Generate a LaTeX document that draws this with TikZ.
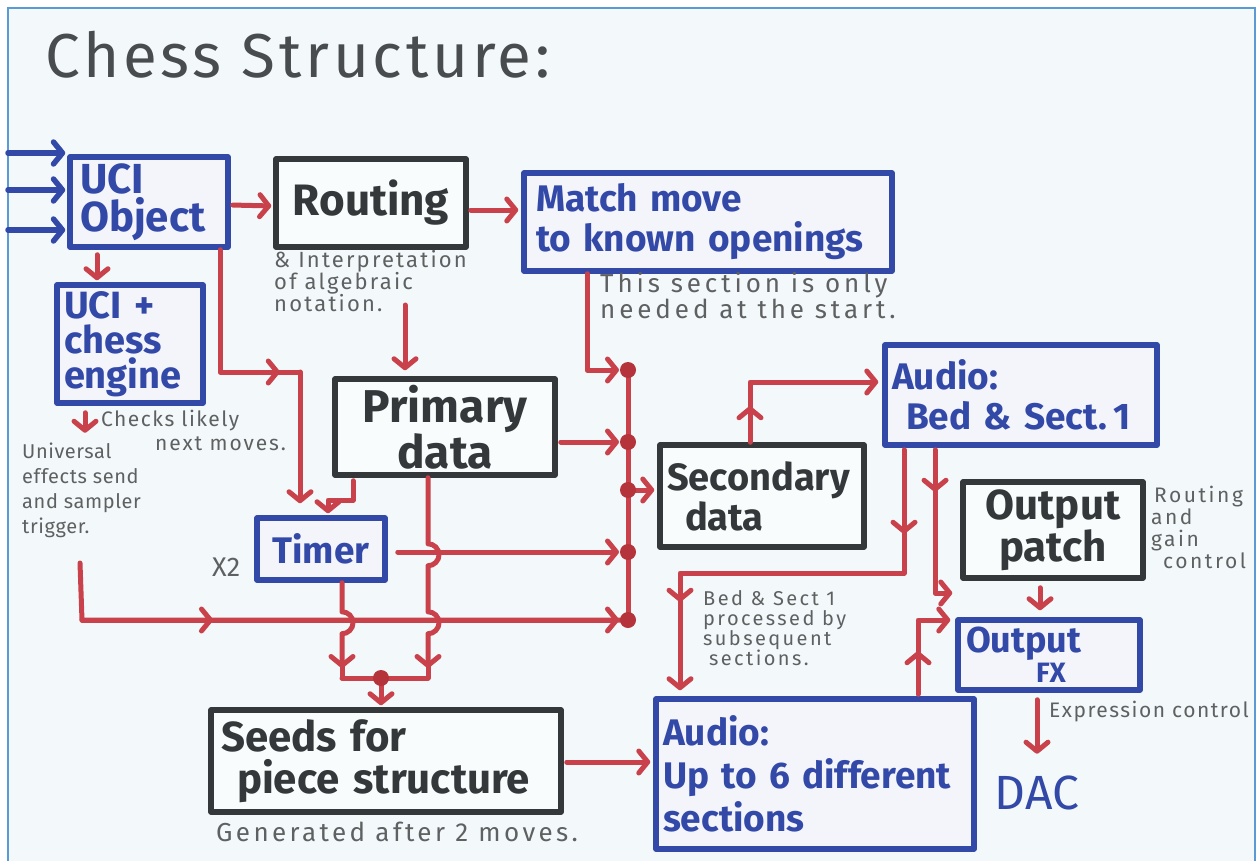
\documentclass[tikz,border=0pt]{standalone}
\usepackage{fontspec}
\setmainfont{Fira Sans}
\usetikzlibrary{arrows.meta,decorations.markings}
\definecolor{bgc}{HTML}{F3F9FA}
\definecolor{framec}{HTML}{5B9BD5}
\definecolor{rd}{HTML}{C9414A}
\definecolor{dotc}{HTML}{B5333B}
\definecolor{bl}{HTML}{3349A8}
\definecolor{dk}{HTML}{35383A}
\definecolor{lav}{HTML}{F4F4FB}
\definecolor{capc}{HTML}{5E6062}
\newcommand\setfs[2]{\fontsize{#1}{#2}\selectfont}
\newcommand\spc[1]{\addfontfeatures{LetterSpace=#1}}

\tikzset{
  >={Straight Barb[length=9pt,width=22pt,round]},
  rl/.style={draw=rd,line width=5pt,line cap=round,line join=round},
  bline/.style={draw=bl,line width=5.5pt,line cap=round},
  box/.style={rectangle,line width=5.5pt,inner xsep=12pt,inner ysep=4pt,line join=round},
  bbox/.style={box,draw=bl,fill=lav,text=bl},
  gbox/.style={box,draw=dk,fill=bgc!50!white,text=dk},
  midtip/.style={postaction={decorate,decoration={markings,mark=at position #1 with {\arrow{>}}}}},
  jdot/.style={fill=dotc},
  note/.style={text=capc,inner sep=0pt,align=left},
}

\begin{document}
\begin{tikzpicture}[x=1pt,y=-1pt]
  \useasboundingbox (0,0) rectangle (1257,861);
  % page and frame
  \fill[white] (0,0) rectangle (1257,861);
  \fill[bgc] (8,8) rectangle (1255,861);
  \draw[framec,line width=2pt] (8,861) -- (8,8) -- (1255,8) -- (1255,861);

  % title
  \node[anchor=west,text=dk!90,inner sep=0pt,font=\setfs{62}{64}\spc{6}] (title) at (45,55) {Chess Structure:};

  % boxes
  \node[bbox,minimum width=158pt,minimum height=90pt,text width=138pt,inner xsep=10pt,align=left,font=\setfs{42}{38}\bfseries] (uci) at (149,202) {UCI\\Object};
  \node[gbox,minimum width=190pt,minimum height=88pt,text width=166pt,align=center,font=\setfs{44}{46}\bfseries] (routing) at (371,203) {Routing};
  \node[bbox,minimum width=368pt,minimum height=98pt,text width=344pt,align=left,font=\setfs{37}{40}\bfseries] (match) at (708,222) {Match move\\to known openings};
  \node[bbox,minimum width=146pt,minimum height=118pt,text width=132pt,inner xsep=7pt,align=left,font=\setfs{38}{35}\bfseries] (engine) at (130,344) {UCI +\\chess\\engine};
  \node[gbox,minimum width=220pt,minimum height=96pt,text width=196pt,align=center,font=\setfs{46}{46}\bfseries] (primary) at (445,427) {Primary\\data};
  \node[bbox,minimum width=128pt,minimum height=62pt,text width=112pt,inner xsep=8pt,align=center,font=\setfs{37}{38}\bfseries] (timer) at (321,549) {Timer};
  \node[gbox,minimum width=350pt,minimum height=102pt,text width=330pt,inner xsep=10pt,align=left,font=\setfs{42}{42}\bfseries] (seeds) at (386,761) {Seeds for\\\hspace*{16pt}piece structure};
  \node[gbox,minimum width=204pt,minimum height=102pt,text width=190pt,inner xsep=7pt,align=left,font=\setfs{38}{40}\bfseries] (secondary) at (762,496) {Secondary\\\hspace*{18pt}data};
  \node[bbox,minimum width=272pt,minimum height=100pt,text width=258pt,inner xsep=7pt,align=left,font=\setfs{37}{40}\bfseries] (bed) at (1021,395) {Audio:\\\hspace*{14pt}\mbox{Bed \& Sect.\,1}};
  \node[gbox,minimum width=180pt,minimum height=96pt,text width=160pt,inner xsep=10pt,align=center,font=\setfs{42}{40}\bfseries] (patch) at (1053,530) {Output\\patch};
  \node[bbox,minimum width=182pt,minimum height=70pt,text width=166pt,inner xsep=8pt,align=left,font=\setfs{36}{30}\bfseries] (fx) at (1049,655) {Output\\\hspace*{70pt}{\setfs{28}{30}\bfseries FX}};
  \node[bbox,minimum width=318pt,minimum height=150pt,text width=304pt,inner xsep=7pt,align=left,font=\setfs{37}{43}\bfseries] (sections) at (815,774) {Audio:\\Up to 6 different\\sections};
  \node[text=bl,inner sep=0pt,font=\setfs{48}{48}] (dac) at (1037,793) {DAC};

  % notes
  \node[note,anchor=north west,font=\setfs{22}{22}\spc{10}] (n1) at (274,250) {\& Interpretation\\of algebraic\\notation.};
  \node[note,anchor=north west,font=\setfs{26}{26}\spc{15}] (n2) at (600,272) {This section is only\\needed at the start.};
  \node[note,anchor=west,font=\setfs{21}{22}\spc{7}] (n3) at (101,421) {Checks likely};
  \node[note,anchor=west,font=\setfs{21}{22}\spc{9}] (n4) at (155,444) {next moves.};
  \node[note,anchor=north west,font=\setfs{20}{25}\spc{3}] (n5) at (22,443) {Universal\\effects send\\and sampler\\trigger.};
  \node[note,anchor=west,font=\setfs{27}{28}] (x2) at (212,567) {X2};
  \node[note,anchor=north west,font=\setfs{20}{20}\spc{12}] (n6) at (703,590) {Bed \& Sect 1\\processed by\\subsequent\\\hspace*{6pt}sections.};
  \node[note,anchor=north west,font=\setfs{21}{22}\spc{12}] (n7) at (1151,486) {\hspace*{3pt}Routing\\and\\gain\\\hspace*{12pt}control};
  \node[note,anchor=west,font=\setfs{21}{21}\spc{7}] (n8) at (1049,712) {Expression control};
  \node[note,anchor=west,font=\setfs{26}{26}\spc{13}] (n9) at (216,832) {Generated after 2 moves.};

  % junction points
  \coordinate (in1) at (8,153);
  \coordinate (in2) at (8,190);
  \coordinate (in3) at (8,230);
  \coordinate (r1) at (500,210);
  \coordinate (e1) at (97,265);
  \coordinate (c1) at (220,372);
  \coordinate (t1) at (300,372);
  \coordinate (k1) at (85,410);
  \coordinate (k2) at (405,305);
  \coordinate (m2) at (587,370);
  \coordinate (d1) at (628,370);
  \coordinate (d2) at (628,442);
  \coordinate (d3) at (628,490);
  \coordinate (d4) at (628,552);
  \coordinate (d5) at (628,620);
  \coordinate (tg) at (80,563);
  \coordinate (tg2) at (82,620);
  \coordinate (p1) at (353,500);
  \coordinate (p2) at (328,500);
  \coordinate (jl) at (342,678);
  \coordinate (jr) at (428,678);
  \coordinate (jd) at (381,678);
  \coordinate (s1) at (750,382);
  \coordinate (s2) at (600,762);
  \coordinate (a1) at (904,573);
  \coordinate (a2) at (680,573);
  \coordinate (a3) at (935,593);
  \coordinate (a4) at (918,620);
  \coordinate (o1) at (1040,600);
  \coordinate (o2) at (1037,720);

  % inputs into the UCI object
  \foreach \p in {in1,in2,in3}
    \draw[bline,->,shorten >=2pt] (\p) -- (\p -| uci.west);

  % top row
  \draw[rl,->,shorten <=2pt,shorten >=2pt] ([yshift=-3pt]uci.east) -- ([yshift=-3pt]routing.west);
  \draw[rl,->,shorten <=2pt,shorten >=3pt] (routing.east |- r1) -- (match.west |- r1);
  \draw[rl,->,shorten <=5pt,shorten >=2pt] (uci.south -| e1) -- (engine.north -| e1);
  \draw[rl,->,shorten <=7pt] (engine.south -| k1) -- ++(0,27);
  \draw[rl,->,shorten >=6pt] (k2) -- (primary.north -| k2);

  % UCI object to timer
  \draw[rl,midtip=182pt] (uci.south -| c1) -- (c1) -- (t1);
  \draw[rl,->,shorten >=12pt] (t1) -- (timer.north -| t1);

  % primary data to timer
  \draw[rl,->,shorten <=3pt,shorten >=2pt] (primary.south -| p1) -- (p1) -- (p2) -- (timer.north -| p2);

  % collecting bus into secondary data
  \draw[rl] (d1) -- (d5);
  \draw[rl,->,shorten >=9pt] (match.south -| m2) -- (m2) -- (d1);
  \draw[rl,->,shorten <=3pt,shorten >=9pt] (primary.east |- d2) -- (d2);
  \draw[rl,->,shorten >=3pt] (d3) -- (secondary.west |- d3);
  \draw[rl,->,shorten <=10pt,shorten >=9pt] (timer.east |- d4) -- (d4);
  \draw[rl,midtip=188pt] (tg) -- (tg2) -- (d5);
  \draw[rl,->,shorten >=9pt] (tg2) -- (d5);

  % timer and primary data down into the seeds
  \draw[rl,->,shorten >=10pt] (timer.south -| jl) -- ++(0,29)
      arc[start angle=-90,end angle=90,radius=11] -- (jl);
  \draw[rl,->,shorten >=10pt] (primary.south -| jr) -- ++(0,66)
      arc[start angle=-90,end angle=90,radius=11] -- ++(0,46)
      arc[start angle=-90,end angle=90,radius=11] -- (jr);
  \draw[rl] (jl) -- ++(0,-14);
  \draw[rl] (jr) -- ++(0,-14);
  \draw[rl] (jl) -- (jr);
  \draw[rl,->,shorten >=2pt] (jd) -- (seeds.north -| jd);
  \draw[rl,->,shorten <=3pt,shorten >=3pt] (seeds.east |- s2) -- (sections.west |- s2);

  % junction dots
  \foreach \p in {d1,d2,d3,d4,d5,jd}
    \fill[jdot] (\p) circle[radius=8pt];

  % secondary data up to the bed
  \draw[rl,->,midtip=36pt,shorten >=4pt] (secondary.north -| s1) -- (s1) -- (bed.west |- s1);

  % bed down to the sections
  \draw[rl,->,midtip=86pt,midtip=378pt,shorten <=2pt,shorten >=6pt] (bed.south -| a1) -- (a1) -- (a2) -- (sections.north -| a2);
  % bed and sections into the output effects
  \draw[rl,->,midtip=44pt,shorten <=2pt,shorten >=3pt] (bed.south -| a3) -- (a3) -- (a3 -| fx.west);
  \draw[rl,->,midtip=45pt,shorten <=2pt,shorten >=5pt] (sections.north -| a4) -- (a4) -- (a4 -| fx.west);
  \draw[rl,->,shorten <=7pt,shorten >=7pt] (patch.south -| o1) -- (fx.north -| o1);
  \draw[rl,->,shorten <=7pt,shorten >=22pt] (fx.south -| o2) -- (dac.north -| o2);
\end{tikzpicture}
\end{document}
